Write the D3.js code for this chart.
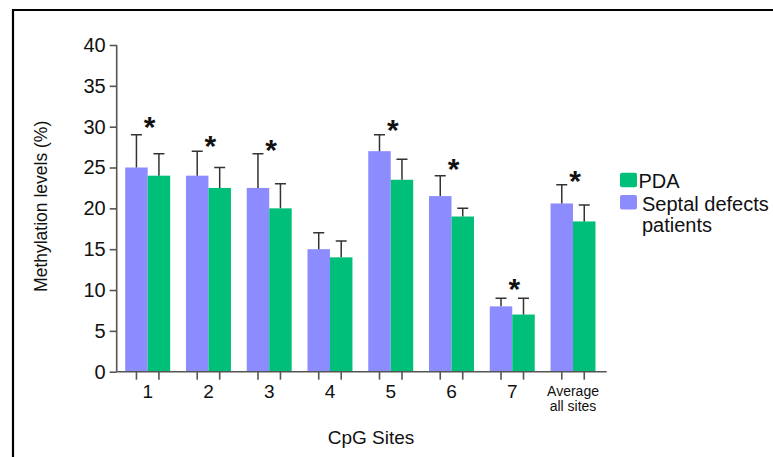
<!DOCTYPE html>
<html>
<head>
<meta http-equiv="Content-type" content="text/html; charset=utf-8">
<title>CpG methylation</title>
<script src="https://cdn.jsdelivr.net/npm/d3@7"></script>
<style>
  body { margin: 0; background: #fff; }
  text { font-family: "Liberation Sans", Arial, sans-serif; fill: #111; }
</style>
</head>
<body>
<script type="text/javascript">

  // DATA
  var sites = ["1", "2", "3", "4", "5", "6", "7", "Average all sites"];
  var series = ["Septal defects patients", "PDA"];
  var septal = [25, 24, 22.5, 15, 27, 21.5, 8, 20.6];
  var septalErr = [29, 27, 26.7, 17, 29, 24, 9, 22.9];
  var pda = [24, 22.5, 20, 14, 23.5, 19, 7, 18.4];
  var pdaErr = [26.7, 25, 23, 16, 26, 20, 9, 20.4];
  var starLevel = [30.8, 28.5, 28, null, 30.4, 25.7, 11, 24.2];
  var yTicks = [0, 5, 10, 15, 20, 25, 30, 35, 40];

  var W = 773, H = 457;
  var colors = { "Septal defects patients": "#8c8cff", "PDA": "#00c079" };
  var FONT = "Liberation Sans, Arial, sans-serif";

  var svg = d3.select("body").append("svg")
      .attr("width", W).attr("height", H);

  // frame (only top + left edge are visible)
  svg.append("path")
      .attr("d", "M13," + H + "V10H" + W)
      .attr("fill", "none").attr("stroke", "#000").attr("stroke-width", 2.2);

  var x0 = 116.7, xEnd = 606.7, yTop = 45, yBot = 371.7;

  var y = d3.scaleLinear().domain([0, 40]).range([yBot, yTop]);
  var x = d3.scaleBand().domain(sites).range([x0, 604]).paddingInner(0.26).paddingOuter(0.14);
  var xs = d3.scaleBand().domain(series).range([0, x.bandwidth()]);

  var rows = [];
  sites.forEach(function(s, i) {
    rows.push({site: s, ser: series[0], v: septal[i], e: septalErr[i]});
    rows.push({site: s, ser: series[1], v: pda[i], e: pdaErr[i]});
  });

  function barMid(d) { return x(d.site) + xs(d.ser) + xs.bandwidth() / 2; }

  // bars
  svg.append("g").selectAll("rect")
      .data(rows).enter().append("rect")
      .attr("x", function(d) { return x(d.site) + xs(d.ser); })
      .attr("y", function(d) { return y(d.v); })
      .attr("width", xs.bandwidth())
      .attr("height", function(d) { return y(0) - y(d.v); })
      .attr("fill", function(d) { return colors[d.ser]; });

  // error bars (upper only)
  var eb = svg.append("g").attr("stroke", "#333").attr("stroke-width", 1.5).attr("fill", "none");
  eb.selectAll("path").data(rows).enter().append("path")
      .attr("d", function(d) {
        var cx = barMid(d);
        return "M" + cx + "," + y(d.v) + "V" + y(d.e) + "M" + (cx - 5.5) + "," + y(d.e) + "H" + (cx + 5.5);
      });

  // y axis
  var yAxis = svg.append("g")
      .attr("transform", "translate(" + x0 + ",0)")
      .call(d3.axisLeft(y).tickValues(yTicks).tickSize(7).tickPadding(4));
  yAxis.select(".domain").attr("d", "M0," + yTop + "V" + yBot).attr("stroke", "#555").attr("stroke-width", 1.6);
  yAxis.selectAll(".tick line").attr("stroke", "#555").attr("stroke-width", 1.6);
  yAxis.selectAll(".tick text").style("font-size", "20px").attr("fill", "#111")
      .style("font-family", FONT);

  // x axis
  var xAxis = svg.append("g")
      .attr("transform", "translate(0," + yBot + ")")
      .call(d3.axisBottom(x).tickSize(0).tickPadding(13));
  xAxis.select(".domain").attr("d", "M" + x0 + ",0H" + xEnd).attr("stroke", "#555").attr("stroke-width", 1.6);
  xAxis.selectAll(".tick line").remove();
  xAxis.selectAll(".tick text")
      .style("font-size", "19px").attr("fill", "#111")
      .style("font-family", FONT)
      .each(function(d) {
        if (d.indexOf(" ") > 0) {
          var t = d3.select(this).text(null).style("font-size", "14px").attr("y", 14);
          t.append("tspan").attr("x", 0).attr("dy", "0.71em").text("Average");
          t.append("tspan").attr("x", 0).attr("dy", "1.07em").text("all sites");
        }
      });
  xAxis.append("g").selectAll("line").data(rows).enter().append("line")
      .attr("x1", barMid).attr("x2", barMid)
      .attr("y1", 0).attr("y2", 8)
      .attr("stroke", "#555").attr("stroke-width", 1.6);

  // significance stars
  svg.append("g").selectAll("text")
      .data(sites.filter(function(s, i) { return starLevel[i] != null; }))
      .enter().append("text")
      .attr("x", function(s) { return x(s) + x.bandwidth() / 2 + 2; })
      .attr("y", function(s) { return y(starLevel[sites.indexOf(s)]) + 17; })
      .attr("text-anchor", "middle")
      .style("font-size", "30px").style("font-weight", "bold")
      .text("*");

  // axis titles
  svg.append("text")
      .attr("transform", "translate(47," + ((yTop + yBot) / 2 - 2) + ") rotate(-90)")
      .attr("text-anchor", "middle")
      .style("font-size", "17.5px")
      .text("Methylation levels (%)");

  svg.append("text")
      .attr("x", 371).attr("y", 444)
      .attr("text-anchor", "middle")
      .style("font-size", "19px")
      .text("CpG Sites");

  // legend
  var legend = [
    {name: "PDA", lines: ["PDA"], y: 172.7},
    {name: "Septal defects patients", lines: ["Septal defects", "patients"], y: 195}
  ];
  var lg = svg.append("g");
  lg.selectAll("rect").data(legend).enter().append("rect")
      .attr("x", 620).attr("y", function(d) { return d.y; })
      .attr("width", 17).attr("height", 14.5).attr("rx", 2)
      .attr("fill", function(d) { return colors[d.name]; });
  lg.selectAll("text").data(legend).enter().append("text")
      .attr("x", function(d, i) { return i ? 642 : 638.5; })
      .attr("y", function(d) { return d.y + 15.5; })
      .style("font-size", "20px")
      .each(function(d) {
        var t = d3.select(this);
        d.lines.forEach(function(l, k) {
          t.append("tspan").attr("x", t.attr("x")).attr("dy", k ? 21 : 0).text(l);
        });
      });

</script>
</body>
</html>
